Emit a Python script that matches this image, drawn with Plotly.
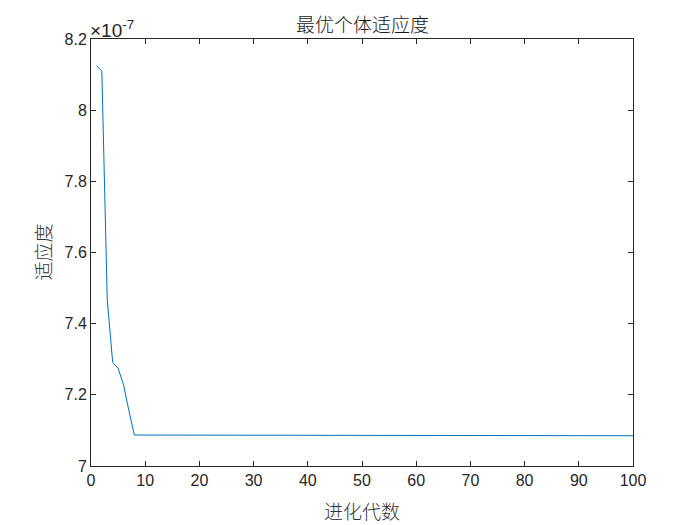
import plotly.graph_objects as go

generations = list(range(1, 101))
fitness = [8.125e-7, 8.11e-7, 7.467e-7, 7.291e-7, 7.275e-7, 7.228e-7, 7.155e-7, 7.087e-7,
           7.087e-7, 7.087e-7, 7.087e-7, 7.087e-7, 7.087e-7,
           7.085e-7, 7.085e-7, 7.085e-7, 7.085e-7, 7.085e-7, 7.085e-7, 7.085e-7, 7.085e-7, 7.085e-7, 7.085e-7,
           7.085e-7, 7.085e-7, 7.085e-7, 7.085e-7, 7.085e-7, 7.085e-7, 7.085e-7, 7.085e-7, 7.085e-7, 7.085e-7,
           7.085e-7, 7.085e-7, 7.085e-7, 7.085e-7, 7.085e-7, 7.085e-7, 7.085e-7, 7.085e-7, 7.085e-7, 7.085e-7,
           7.085e-7, 7.085e-7, 7.085e-7, 7.085e-7, 7.085e-7, 7.085e-7, 7.085e-7, 7.085e-7, 7.085e-7, 7.085e-7,
           7.085e-7, 7.085e-7, 7.085e-7, 7.085e-7, 7.085e-7, 7.085e-7, 7.085e-7, 7.085e-7, 7.085e-7, 7.085e-7,
           7.085e-7, 7.085e-7, 7.085e-7, 7.085e-7, 7.085e-7, 7.085e-7, 7.085e-7, 7.085e-7, 7.085e-7, 7.085e-7,
           7.085e-7, 7.085e-7, 7.085e-7, 7.085e-7, 7.085e-7, 7.085e-7, 7.085e-7, 7.085e-7, 7.085e-7, 7.085e-7,
           7.085e-7, 7.085e-7, 7.085e-7, 7.085e-7, 7.085e-7, 7.085e-7, 7.085e-7, 7.085e-7, 7.085e-7, 7.085e-7,
           7.085e-7, 7.085e-7, 7.085e-7, 7.085e-7, 7.085e-7, 7.085e-7, 7.085e-7, 7.085e-7]
fitness = fitness[:100]
x_ticks = [0, 10, 20, 30, 40, 50, 60, 70, 80, 90, 100]
y_tickvals = [7.0e-7, 7.2e-7, 7.4e-7, 7.6e-7, 7.8e-7, 8.0e-7, 8.2e-7]
y_ticktext = ["7", "7.2", "7.4", "7.6", "7.8", "8", "8.2"]

title_text = "最优个体适应度"
x_label = "进化代数"
y_label = "适应度"
exponent_label = "×10<sup>-7</sup>"

cjk = "Noto Sans CJK SC"
latin = "Liberation Sans, Arial, sans-serif"

W, H = 700, 525
L, R, T, B = 83, 75, 31, 67  # page has an 8px body margin

fig = go.Figure()
fig.add_trace(go.Scatter(x=generations, y=fitness, mode="lines",
                         line=dict(color="#0072BD", width=1), showlegend=False))

axis_common = dict(showgrid=False, zeroline=False, showline=True, linecolor="#262626",
                   linewidth=1, mirror="ticks", ticks="inside", ticklen=5,
                   tickcolor="#262626", tickwidth=1,
                   tickfont=dict(family=latin, size=16, color="#262626"))

fig.update_layout(
    width=W, height=H,
    paper_bgcolor="white", plot_bgcolor="white",
    margin=dict(l=L, r=R, t=T, b=B),
    xaxis=dict(range=[0, 100], tickvals=x_ticks, **axis_common),
    yaxis=dict(range=[7.0e-7, 8.2e-7], tickvals=y_tickvals, ticktext=y_ticktext, **axis_common),
    annotations=[
        dict(text=title_text, xref="paper", yref="paper", x=0.5, y=1, xanchor="center",
             yanchor="middle", yshift=16, showarrow=False,
             font=dict(family=cjk, size=19, color="#1a1a1a", weight=300)),
        dict(text=x_label, xref="paper", yref="paper", x=0.5, y=0, xanchor="center",
             yanchor="middle", yshift=-44, showarrow=False,
             font=dict(family=cjk, size=19, color="#333333", weight=300)),
        dict(text=y_label, xref="paper", yref="paper", x=0, y=0.5, xanchor="center",
             yanchor="middle", xshift=-49, textangle=-90, showarrow=False,
             font=dict(family=cjk, size=19, color="#333333", weight=300)),
        dict(text=exponent_label, xref="paper", yref="paper", x=0, y=1,
             xanchor="left", yanchor="bottom", showarrow=False, xshift=-3, yshift=-4,
             font=dict(family=latin, size=19, color="#262626")),
    ],
)

fig.write_html("out.html")
